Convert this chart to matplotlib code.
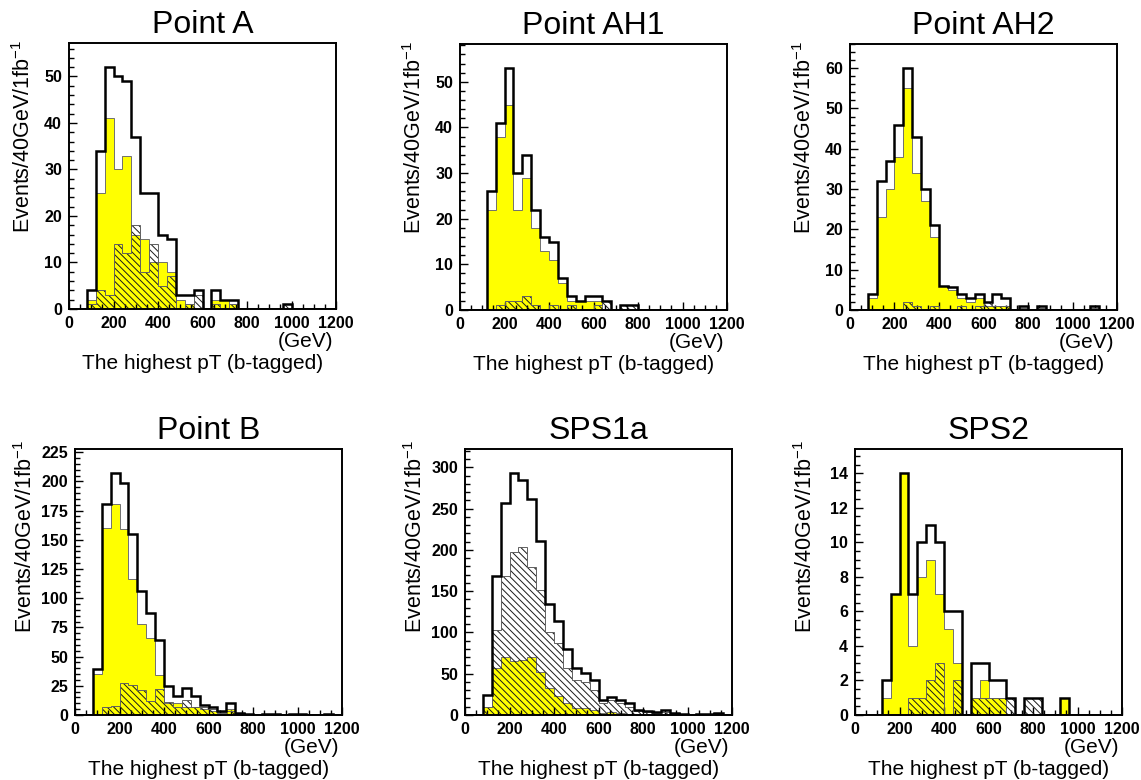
import numpy as np
import matplotlib

matplotlib.use("Agg")
import matplotlib.pyplot as plt
from matplotlib.ticker import MultipleLocator

plt.rcParams["font.family"] = ["Liberation Sans", "DejaVu Sans"]
plt.rcParams["mathtext.default"] = "regular"
plt.rcParams["hatch.linewidth"] = 0.7

# 40 GeV bins from 0 to 1200 GeV
edges = np.arange(0, 1201, 40)

# events per bin: total (open), yellow-filled component, hatched component
pointA_total = [0, 0, 4, 34, 52, 50, 49, 37, 25, 25, 16, 15, 3, 3, 4, 0, 4, 2, 2, 0, 0, 0, 0, 0, 1, 0, 0, 0, 0, 0]
pointA_yellow = [0, 0, 2, 25, 41, 30, 33, 16, 15, 10, 10, 8, 2, 1, 0, 0, 2, 2, 1, 0, 0, 0, 0, 0, 0, 0, 0, 0, 0, 0]
pointA_hatch = [0, 0, 1, 4, 3, 14, 12, 18, 8, 14, 5, 7, 0, 1, 3, 0, 1, 0, 1, 0, 0, 0, 0, 0, 1, 0, 0, 0, 0, 0]

ah1_total = [0, 0, 0, 26, 41, 53, 30, 34, 22, 16, 15, 7, 3, 2, 3, 3, 2, 0, 1, 1, 0, 0, 0, 0, 0, 0, 0, 0, 0, 0]
ah1_yellow = [0, 0, 0, 22, 38, 45, 22, 29, 18, 13, 11, 6, 2, 2, 2, 2, 0, 0, 0, 0, 0, 0, 0, 0, 0, 0, 0, 0, 0, 0]
ah1_hatch = [0, 0, 0, 0, 1, 2, 2, 3, 1, 0, 1, 0, 1, 0, 0, 1, 2, 0, 1, 1, 0, 0, 0, 0, 0, 0, 0, 0, 0, 0]

ah2_total = [0, 0, 4, 32, 37, 46, 60, 43, 30, 21, 6, 5.7, 4, 3, 4, 2, 4, 3, 0, 1, 0, 1, 0, 0, 0, 0, 0, 1, 0, 0]
ah2_yellow = [0, 0, 3, 23, 30, 38, 55, 34, 27, 18, 6, 5, 3, 2, 3, 1, 1, 1, 0, 0, 0, 0, 0, 0, 0, 0, 0, 0, 0, 0]
ah2_hatch = [0, 0, 0, 0, 0, 0, 2, 1, 0, 1, 0, 0, 1, 0, 1, 2, 1, 1, 0, 0.5, 0, 0.5, 0, 0, 0, 0, 0, 0.5, 0, 0]

pointB_total = [0, 0, 39, 181, 207, 199, 155, 106, 87, 64, 25, 16, 23, 16, 8.6, 6.6, 3, 10, 2, 1, 0, 1, 0.5, 0, 0.5, 0.5, 0, 0, 0.5, 0]
pointB_yellow = [0, 0, 35, 160, 181, 159, 116, 78, 66, 34, 10, 10, 6.6, 6.6, 5, 3, 2.3, 5, 1, 0, 0, 0, 0, 0, 0, 0, 0, 0, 0, 0]
pointB_hatch = [0, 0, 0, 7, 8, 27, 26, 21, 12, 22, 11.5, 6.6, 13, 6.6, 7, 5, 2, 3, 1, 0.5, 0, 0.5, 0, 0, 0, 0, 0, 0, 0, 0]

sps1a_total = [0, 0, 24, 169, 257, 293, 285, 262, 211, 134, 114, 80, 57, 51, 43, 18, 22, 18, 14, 6, 5, 4, 6, 2, 1, 0.5, 1, 1, 2, 0]
sps1a_yellow = [0, 0, 10, 57, 70, 65, 67, 70, 52, 33, 23, 14, 8, 8, 6, 3, 4, 2, 1, 0.5, 0, 0, 0, 0, 0, 0, 0, 0, 0, 0]
sps1a_hatch = [0, 0, 10, 103, 169, 197, 203, 179, 152, 100, 87, 57, 43, 40, 30, 14, 18, 14, 10, 5, 4, 3, 4, 1.5, 0.5, 0, 0.5, 0.5, 1, 0]

sps2_total = [0, 0, 0, 2, 7, 14, 7, 10, 11, 10, 6, 6, 0, 3, 3, 2, 2, 1, 0, 1, 1, 0, 0, 1, 0, 0, 0, 0, 0, 0]
sps2_yellow = [0, 0, 0, 1, 7, 14, 4, 8, 9, 7, 5, 3, 0, 1, 2, 1, 1, 0, 0, 0, 0, 0, 0, 1, 0, 0, 0, 0, 0, 0]
sps2_hatch = [0, 0, 0, 0, 0, 0, 1, 1, 2, 3, 0, 2, 0, 1, 1, 1, 1, 1, 0, 1, 1, 0, 0, 0, 0, 0, 0, 0, 0, 0]

titles = ["Point A", "Point AH1", "Point AH2", "Point B", "SPS1a", "SPS2"]
y_major = [10, 10, 10, 25, 50, 2]
y_minor = [2, 2, 2, 5, 10, 0.5]

FIG_W, FIG_H = 1141, 780
AX_W, AX_H = 267, 266
# (left, top) of each frame in pixels
frames = [(69, 43), (460, 44), (850, 44), (75, 449), (465, 449), (855, 449)]


def draw_panel(ax, title, total, yellow, hatched, major, minor, ylab_dx, ylab_dy):
    ax.stairs(yellow, edges, fill=True, facecolor="#ffff00", edgecolor="none", zorder=1)
    ax.stairs(yellow, edges, color="#707070", linewidth=0.7, zorder=1.5)
    ax.stairs(hatched, edges, fill=True, facecolor="none", edgecolor="#1a1a1a",
              linewidth=0, hatch="\\" * 5, zorder=2)
    ax.stairs(hatched, edges, color="#606060", linewidth=0.7, zorder=2.5)
    ax.stairs(total, edges, color="black", linewidth=1.8, zorder=3)

    ax.set_xlim(0, 1200)
    ax.set_ylim(0, 1.1 * max(total))
    ax.xaxis.set_major_locator(MultipleLocator(200))
    ax.xaxis.set_minor_locator(MultipleLocator(50))
    ax.yaxis.set_major_locator(MultipleLocator(major))
    ax.yaxis.set_minor_locator(MultipleLocator(minor))
    ax.tick_params(which="both", direction="in", top=False, right=False, width=1.0)
    ax.tick_params(which="major", length=6, labelsize=11.5, pad=5)
    ax.tick_params(which="minor", length=3.5)
    for lbl in ax.get_xticklabels() + ax.get_yticklabels():
        lbl.set_fontweight("bold")
    for sp in ax.spines.values():
        sp.set_linewidth(1.4)

    ax.text(0.5, 1 + 10 / AX_H, title, transform=ax.transAxes, ha="center",
            va="baseline", fontsize=23)
    ax.text(1 - 3 / AX_W, -38 / AX_H, "(GeV)", transform=ax.transAxes, ha="right",
            va="baseline", fontsize=15)
    ax.text(0.5, -60 / AX_H, "The highest pT (b-tagged)", transform=ax.transAxes,
            ha="center", va="baseline", fontsize=15)
    ax.text(ylab_dx / AX_W, 1 + ylab_dy / AX_H, "Events/40GeV/1fb$^{-1}$",
            transform=ax.transAxes, rotation=90, ha="center", va="top", fontsize=15.5)


fig = plt.figure(figsize=(FIG_W / 100, FIG_H / 100), dpi=100)

data = [
    (pointA_total, pointA_yellow, pointA_hatch),
    (ah1_total, ah1_yellow, ah1_hatch),
    (ah2_total, ah2_yellow, ah2_hatch),
    (pointB_total, pointB_yellow, pointB_hatch),
    (sps1a_total, sps1a_yellow, sps1a_hatch),
    (sps2_total, sps2_yellow, sps2_hatch),
]

for i, ((left, top), (tot, yel, hat)) in enumerate(zip(frames, data)):
    rect = [left / FIG_W, (FIG_H - top - AX_H) / FIG_H, AX_W / FIG_W, AX_H / FIG_H]
    ax = fig.add_axes(rect)
    if i < 3:
        dx, dy = -45, 3
    else:
        dx, dy = -49, 9
    draw_panel(ax, titles[i], tot, yel, hat, y_major[i], y_minor[i], dx, dy)

fig.savefig("out.png", dpi=100)
